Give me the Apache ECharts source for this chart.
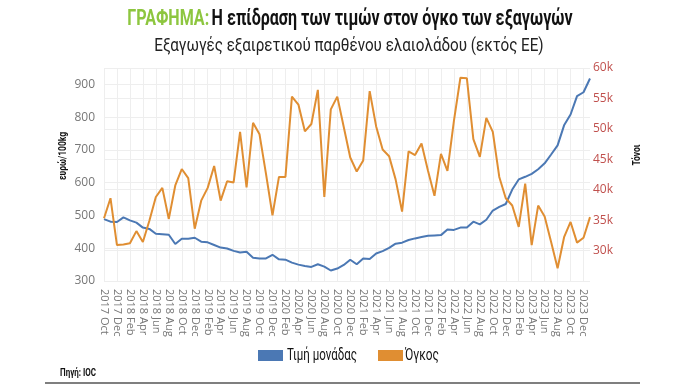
<!DOCTYPE html>
<html>
<head>
<meta charset="utf-8">
<script src="https://cdn.jsdelivr.net/npm/echarts@6/dist/echarts.min.js"></script>
<style>
html,body{margin:0;padding:0;background:#fff;}
#c{width:700px;height:385px;}
</style>
</head>
<body>
<div id="c"></div>
<script>
const categories = [
 "2017 Oct","2017 Nov","2017 Dec",
 "2018 Jan","2018 Feb","2018 Mar","2018 Apr","2018 May","2018 Jun","2018 Jul","2018 Aug","2018 Sep","2018 Oct","2018 Nov","2018 Dec",
 "2019 Jan","2019 Feb","2019 Mar","2019 Apr","2019 May","2019 Jun","2019 Jul","2019 Aug","2019 Sep","2019 Oct","2019 Nov","2019 Dec",
 "2020 Jan","2020 Feb","2020 Mar","2020 Apr","2020 May","2020 Jun","2020 Jul","2020 Aug","2020 Sep","2020 Oct","2020 Nov","2020 Dec",
 "2021 Jan","2021 Feb","2021 Mar","2021 Apr","2021 May","2021 Jun","2021 Jul","2021 Aug","2021 Sep","2021 Oct","2021 Nov","2021 Dec",
 "2022 Jan","2022 Feb","2022 Mar","2022 Apr","2022 May","2022 Jun","2022 Jul","2022 Aug","2022 Sep","2022 Oct","2022 Nov","2022 Dec",
 "2023 Jan","2023 Feb","2023 Mar","2023 Apr","2023 May","2023 Jun","2023 Jul","2023 Aug","2023 Sep","2023 Oct","2023 Nov","2023 Dec",
 "2024 Jan"
];
// Τιμή μονάδας (ευρώ/100kg)
const priceValues = [
 489,481,480,494,485,478,463,459,444,443,441,413,429,429,432,420,418,410,402,399,392,387,389,371,369,369,380,366,365,356,350,346,343,351,344,332,338,349,365,351,369,367,384,391,401,414,417,425,430,434,438,439,440,457,456,463,463,481,473,487,515,526,535,579,610,618,627,641,659,686,714,775,808,864,876,918
];
// Όγκος (χιλ. τόνοι)
const volumeValues = [
 35.3,38.6,30.9,31.0,31.2,33.2,31.4,34.9,38.8,40.3,35.2,40.7,43.4,41.9,33.6,38.2,40.3,43.9,38.2,41.4,41.2,49.5,40.4,51.0,49.1,42.6,35.8,42.1,42.1,55.3,54.0,49.6,50.8,56.4,38.8,53.2,55.3,50.3,45.3,43.0,44.8,56.2,50.4,46.6,45.5,41.7,36.4,46.3,45.7,47.6,43.1,39.0,45.9,43.1,51.3,58.4,58.3,48.3,45.4,51.8,49.5,42.1,38.6,37.4,33.9,41.0,30.9,37.4,35.6,31.4,27.1,32.2,34.7,31.3,32.1,35.5
];
const leftTicks = {min:300, max:950, interval:100};
const rightTicks = {min:25, max:60, interval:5};
const seriesNames = ['Τιμή μονάδας','Όγκος'];
const seriesColors = ['#4b78b4','#e08e32'];

const chart = echarts.init(document.getElementById('c'));
const sans = '"Roboto",sans-serif';
chart.setOption({
  animation:false,
  backgroundColor:'#fff',
  grid:{left:104,right:110,top:68,bottom:104},
  legend:{show:false, data:seriesNames},
  xAxis:{
    type:'category', data:categories, boundaryGap:false,
    axisLine:{show:false}, axisTick:{show:false},
    axisLabel:{interval:1, rotate:-90, color:'#777', fontFamily:'"Open Sans",sans-serif', fontSize:11, margin:8},
    splitLine:{show:true, interval:1, lineStyle:{color:'#eeeeee'}}
  },
  yAxis:[
    {type:'value', min:leftTicks.min, max:leftTicks.max, interval:leftTicks.interval,
     axisLine:{show:false}, axisTick:{show:false},
     axisLabel:{showMaxLabel:false, color:'#777', fontFamily:'"Open Sans",sans-serif', fontSize:12, margin:9},
     splitLine:{lineStyle:{color:'#eeeeee'}}},
    {type:'value', min:rightTicks.min, max:rightTicks.max, interval:rightTicks.interval,
     axisLine:{show:false}, axisTick:{show:false},
     axisLabel:{showMinLabel:false, color:'#c0504d', fontFamily:'"Open Sans",sans-serif', fontSize:12, margin:3,
       formatter:function(v){return v+'k';}},
     splitLine:{lineStyle:{color:'#eeeeee'}}}
  ],
  graphic:[
    {type:'text', x:350, y:8, scaleX:0.73,
     style:{text:'{g|ΓΡΑΦΗΜΑ:} {b|Η επίδραση των τιμών στον όγκο των εξαγωγών}', align:'center', verticalAlign:'top',
       rich:{
         g:{fill:'#8dc63f', fontFamily:sans, fontWeight:'bold', fontSize:22},
         b:{fill:'#111', fontFamily:sans, fontWeight:'bold', fontSize:22}
       }}},
    {type:'text', x:349, y:37, scaleX:0.8,
     style:{text:'Εξαγωγές εξαιρετικού παρθένου ελαιολάδου (εκτός ΕΕ)', align:'center', verticalAlign:'top',
       font:'19px '+sans, fill:'#222'}},
    {type:'text', x:63, y:156, rotation:Math.PI/2, scaleX:0.85,
     style:{text:'ευρώ/100kg', font:'bold 10px '+sans, fill:'#111', align:'center', verticalAlign:'middle'}},
    {type:'text', x:637, y:155, rotation:Math.PI/2, scaleX:0.85,
     style:{text:'Τόνοι', font:'bold 10px '+sans, fill:'#111', align:'center', verticalAlign:'middle'}},
    {type:'rect', shape:{x:258,y:350,width:25,height:11}, style:{fill:seriesColors[0]}},
    {type:'text', x:287, y:355.5, scaleX:0.72,
     style:{text:seriesNames[0], font:'16px '+sans, fill:'#111', align:'left', verticalAlign:'middle'}},
    {type:'rect', shape:{x:378,y:350,width:25,height:11}, style:{fill:seriesColors[1]}},
    {type:'text', x:405, y:355.5, scaleX:0.74,
     style:{text:seriesNames[1], font:'16px '+sans, fill:'#111', align:'left', verticalAlign:'middle'}},
    {type:'text', x:60, y:373, scaleX:0.8,
     style:{text:'Πηγή: IOC', font:'bold 10px '+sans, fill:'#111', align:'left', verticalAlign:'middle'}},
    {type:'line', shape:{x1:45,y1:383,x2:640,y2:383}, style:{stroke:'#555',lineWidth:1.5}}
  ],
  series:[
    {name:seriesNames[0], type:'line', yAxisIndex:0, data:priceValues, showSymbol:false,
     lineStyle:{width:2,color:seriesColors[0]}, itemStyle:{color:seriesColors[0]}},
    {name:seriesNames[1], type:'line', yAxisIndex:1, data:volumeValues, showSymbol:false,
     lineStyle:{width:2,color:seriesColors[1]}, itemStyle:{color:seriesColors[1]}}
  ]
});
</script>
</body>
</html>
